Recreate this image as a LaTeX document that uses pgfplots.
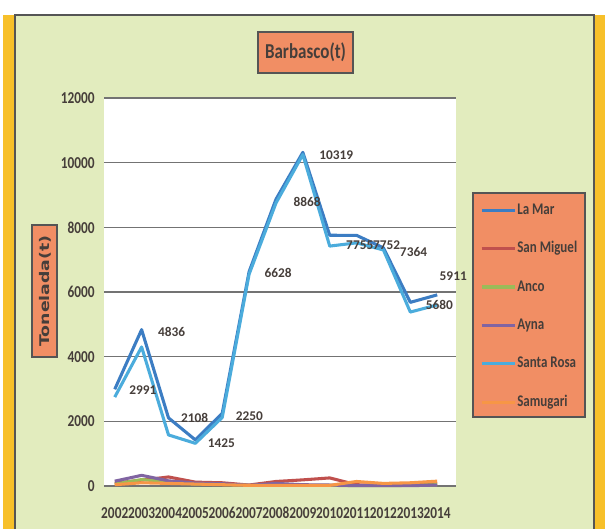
\documentclass[border=0pt]{standalone}
\usepackage{fontspec}
\setmainfont{Carlito}
\newfontfamily\djv{DejaVu Sans}
\usepackage{pgfplots}
\pgfplotsset{compat=1.18}
\usepackage{pgfplotstable}
\usepackage{graphicx}

\definecolor{bgg}{RGB}{226,236,190}
\definecolor{ystrip}{RGB}{247,192,42}
\definecolor{boxo}{RGB}{241,142,100}
\definecolor{bord}{RGB}{85,85,85}
\definecolor{txt}{RGB}{70,62,58}
\definecolor{cLaMar}{RGB}{60,125,195}
\definecolor{cSanMiguel}{RGB}{192,80,77}
\definecolor{cAnco}{RGB}{155,187,89}
\definecolor{cAyna}{RGB}{128,100,162}
\definecolor{cSantaRosa}{RGB}{75,172,220}
\definecolor{cSamugari}{RGB}{247,150,70}

\newcommand\vs[1]{\scalebox{1}[1.25]{#1}}

\pgfplotstableread{
x y dx dy lab
2002 2991 9.75 -0.75 2991
2003 4836 11.25 -1.5 4836
2004 2108 8.25 0 2108
2005 1425 8.25 -2.25 1425
2006 2250 9 -2.25 2250
2007 6628 10.5 -0.75 6628
2008 8868 12 -2.25 8868
2009 10319 11.25 -2.25 10319
2010 7755 11.25 -7.5 7755
2011 7752 11.25 -7.5 7752
2012 7364 11.25 -3 7364
2013 5680 10.5 -2.25 5680
2014 5911 0.75 14.25 5911
}\lamar

\pgfplotstableread{
x y
2002 2750
2003 4300
2004 1580
2005 1320
2006 2120
2007 6550
2008 8750
2009 10250
2010 7420
2011 7520
2012 7300
2013 5380
2014 5600
}\santarosa

\pgfplotstableread{
x y
2002 90
2003 180
2004 280
2005 120
2006 100
2007 30
2008 140
2009 190
2010 250
2011 40
2012 20
2013 40
2014 90
}\sanmiguel

\pgfplotstableread{
x y
2002 60
2003 200
2004 120
2005 60
2006 50
2007 20
2008 30
2009 20
2010 20
2011 10
2012 10
2013 20
2014 40
}\anco

\pgfplotstableread{
x y
2002 150
2003 330
2004 160
2005 90
2006 70
2007 20
2008 80
2009 40
2010 30
2011 10
2012 10
2013 10
2014 30
}\ayna

\pgfplotstableread{
x y
2002 40
2003 100
2004 80
2005 60
2006 40
2007 20
2008 20
2009 20
2010 20
2011 140
2012 80
2013 100
2014 150
}\samugari

\begin{document}
\begin{tikzpicture}
\begin{scope}[x=0.75pt,y=0.75pt]
\fill[white] (0,0) rectangle (605,529);
\fill[ystrip] (3,0) rectangle (14,514);
\fill[ystrip] (595,0) rectangle (605,514);
\fill[bgg] (15,0) rectangle (594,514);
\draw[bord,line width=1.5pt] (15,0) -- (15,514) -- (594,514) -- (594,0);
% title
\draw[bord,fill=boxo,line width=1.2pt] (258,497) rectangle (353,456);
\node[text=txt,font=\fontsize{12.75pt}{14pt}\selectfont\bfseries] at (305.5,477) {\vs{Barbasco(t)}};
% y label
\draw[bord,fill=boxo,line width=1pt] (32,304) rectangle (57,172);
\node[text=txt,rotate=90,font=\djv\fontsize{10pt}{12pt}\selectfont\bfseries] at (45,238) {\scalebox{1.3}[1]{Tonelada(t)}};
% legend box
\draw[bord,fill=boxo,line width=1pt] (473,336) rectangle (585,112);
\end{scope}
\begin{axis}[
  at={(78pt,32.25pt)}, anchor=south west,
  scale only axis, width=264pt, height=291pt,
  xmin=2001.6, xmax=2014.7, ymin=0, ymax=12000,
  clip=false, scaled y ticks=false, scaled x ticks=false,
  axis background/.style={fill=white},
  axis line style={draw=none}, major tick length=0pt,
  ymajorgrids, grid style={draw=black!55,line width=0.8pt},
  xtick={2002,2003,2004,2005,2006,2007,2008,2009,2010,2011,2012,2013,2014},
  xticklabels={\vs{2002},\vs{2003},\vs{2004},\vs{2005},\vs{2006},\vs{2007},\vs{2008},\vs{2009},\vs{2010},\vs{2011},\vs{2012},\vs{2013},\vs{2014}},
  ytick={0,2000,4000,6000,8000,10000,12000},
  yticklabels={\vs{0},\vs{2000},\vs{4000},\vs{6000},\vs{8000},\vs{10000},\vs{12000}},
  ticklabel style={font=\fontsize{10pt}{11pt}\selectfont\bfseries, text=txt, inner sep=0pt},
  xticklabel style={anchor=center, yshift=-20.25pt},
  yticklabel style={anchor=east, xshift=-6.75pt},
  legend image code/.code={\draw[#1] (0pt,0pt) -- (24.75pt,0pt);},
  legend style={at={(axis description cs:1.068,0.735)}, anchor=north west,
    draw=none, fill=none, inner sep=0pt, row sep=15.35pt,
    nodes={inner sep=0.75pt, text height=9pt, text depth=3pt,
      font=\fontsize{9.75pt}{11pt}\selectfont\bfseries, text=txt}},
  legend cell align=left,
  every axis plot/.append style={line width=2.3pt, line join=round, no marks},
]
\addplot[cLaMar] table[x=x,y=y] {\lamar};
\addlegendentry{\vs{La Mar}}
\addplot[cSanMiguel] table[x=x,y=y] {\sanmiguel};
\addlegendentry{\vs{San Miguel}}
\addplot[cAnco] table[x=x,y=y] {\anco};
\addlegendentry{\vs{Anco}}
\addplot[cAyna] table[x=x,y=y] {\ayna};
\addlegendentry{\vs{Ayna}}
\addplot[cSantaRosa] table[x=x,y=y] {\santarosa};
\addlegendentry{\vs{Santa Rosa}}
\addplot[cSamugari] table[x=x,y=y] {\samugari};
\addlegendentry{\vs{Samugari}}
\addplot[draw=none, forget plot,
  point meta=explicit symbolic,
  visualization depends on={\thisrow{dx} \as \dx},
  visualization depends on={\thisrow{dy} \as \dy},
  nodes near coords,
  every node near coord/.append style={anchor=west, inner sep=0pt,
    xshift=\dx pt, yshift=\dy pt, text=txt,
    font=\fontsize{10pt}{11pt}\selectfont\bfseries}]
  table[x=x,y=y,meta=lab] {\lamar};
\end{axis}
\pgfresetboundingbox
\path[use as bounding box] (0pt,0pt) rectangle (453.75pt,396.75pt);
\end{tikzpicture}
\end{document}
